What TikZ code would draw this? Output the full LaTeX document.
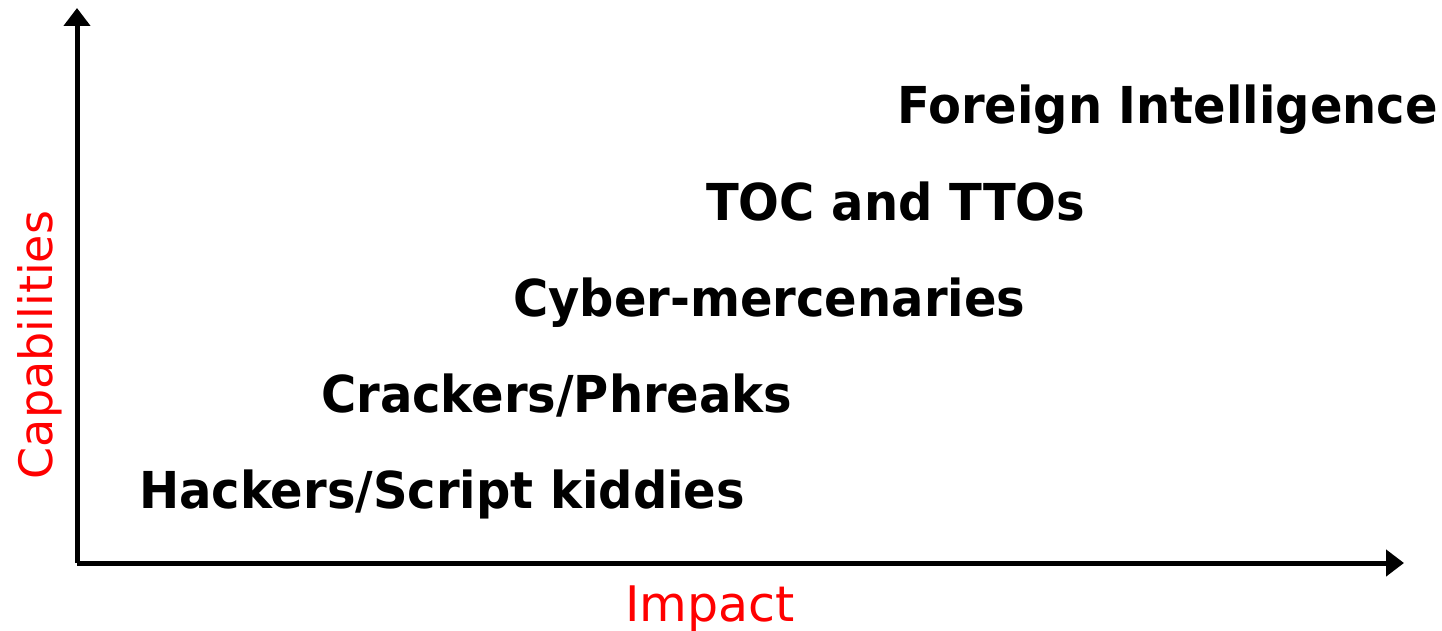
\documentclass[tikz,border=0pt]{standalone}
\usepackage{fontspec}
\setmainfont{DejaVu Sans}
\usetikzlibrary{arrows.meta}
\newcommand{\actortext}[1]{\scalebox{1}[1.06]{#1}}
\tikzset{
  axis/.style={line width=5pt, -{Triangle[length=18pt,width=26pt]}},
  actor/.style={anchor=base west, inner sep=0pt, font=\fontsize{48}{48}\selectfont\bfseries},
  axlabel/.style={inner sep=0pt, text=red}
}
\begin{document}
\begin{tikzpicture}[x=1pt,y=-1pt]
  \useasboundingbox (0,0) rectangle (1442,631);
  \coordinate (o) at (77,563);
  \coordinate (ytop) at (77,8);
  \coordinate (xend) at (1404,563);
  \draw[axis] (o) -- (ytop);
  \draw[axis] (o) -- (xend);
  \node[actor] (fi) at (897,124) {\actortext{Foreign Intelligence}};
  \node[actor] (toc) at (706,220) {\actortext{TOC and TTOs}};
  \node[actor] (cm) at (513,316) {\actortext{Cyber-mercenaries}};
  \node[actor] (cp) at (321,412) {\actortext{Crackers/Phreaks}};
  \node[actor] (hs) at (139,508) {\actortext{Hackers/Script kiddies}};
  \node[axlabel, anchor=base, font=\fontsize{49}{49}\selectfont] (imp) at (710,621) {Impact};
  \node[axlabel, anchor=base, rotate=90, font=\fontsize{46}{46}\selectfont] (cap) at (52,345) {Capabilities};
\end{tikzpicture}
\end{document}
